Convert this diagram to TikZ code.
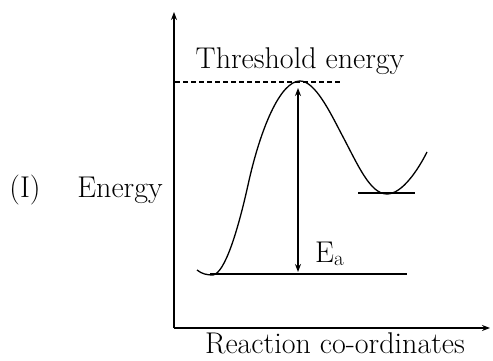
\documentclass[tikz,border=0pt]{standalone}
\usetikzlibrary{arrows.meta}
\begin{document}
\begin{tikzpicture}[x=1pt,y=-1pt,
  ln/.style={line width=1.3pt},
  axis/.style={line width=1.4pt,-{Stealth[length=8pt,width=6pt]}},
  lbl/.style={font=\fontsize{30}{34}\selectfont, inner sep=0pt},
  dbl/.style={line width=1.3pt,{Stealth[length=8pt,width=6pt]}-{Stealth[length=8pt,width=6pt]}}]
\useasboundingbox (0,0) rectangle (493,361);
\coordinate (O) at (174,328);
\coordinate (ytop) at (174,12);
\coordinate (xend) at (490,328);
\draw[axis] (O) -- (ytop);
\draw[axis] (O) -- (xend);
% threshold
\coordinate (th0) at (175,82);
\coordinate (th1) at (340,82);
\draw[ln,dash pattern=on 5pt off 3pt] (th0) -- (th1);
\node[lbl] (thr) at (300,61) {Threshold energy};
% curve
\coordinate (c0) at (197,270);
\coordinate (rmin) at (213,275);
\coordinate (i1) at (248,185);
\coordinate (peak) at (300,81);
\coordinate (i2) at (342,135);
\coordinate (pmin) at (387,194);
\coordinate (c1) at (427,152);
\draw[ln] (c0) .. controls (202,274) and (207,275) .. (rmin)
  .. controls (225,273) and (238,230) .. (i1)
  .. controls (260,130) and (280,81) .. (peak)
  .. controls (315,81) and (330,112) .. (i2)
  .. controls (358,165) and (370,194) .. (pmin)
  .. controls (402,194) and (418,170) .. (c1);
% levels
\coordinate (r0) at (210,274);
\coordinate (r1) at (407,274);
\draw[ln] (r0) -- (r1);
\coordinate (p0) at (358,193);
\coordinate (p1) at (415,193);
\draw[ln] (p0) -- (p1);
% Ea arrow
\coordinate (a0) at (298,88);
\coordinate (a1) at (298,272);
\draw[dbl] (a0) -- (a1);
\node[lbl,anchor=base west] (ea) at (315,262) {E\textsubscript{a}};
% labels
\node[lbl] (en) at (120,190) {Energy};
\node[lbl] (one) at (25,190) {(I)};
\node[lbl] (rc) at (335,343) {Reaction co-ordinates};
\end{tikzpicture}
\end{document}
